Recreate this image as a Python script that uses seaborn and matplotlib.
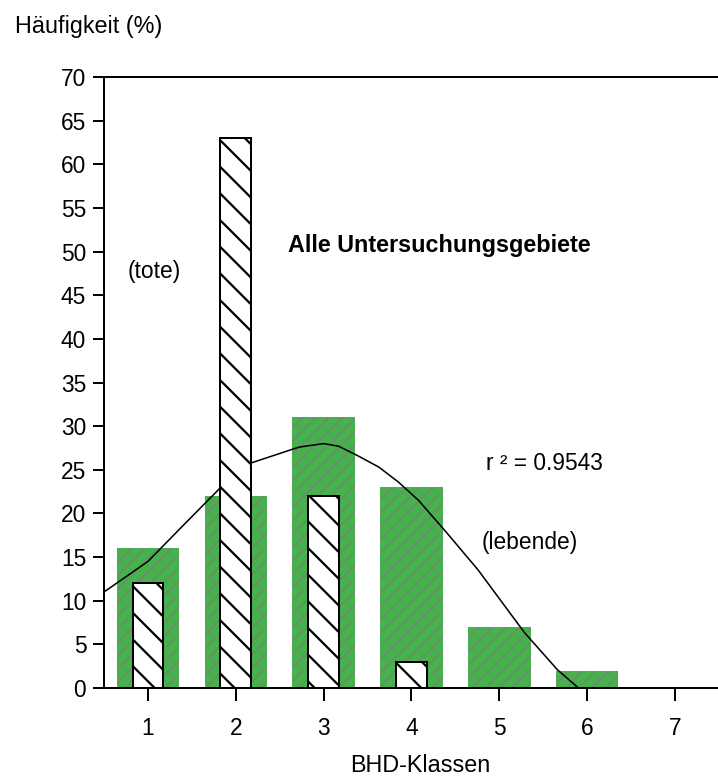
import matplotlib
matplotlib.use("Agg")
import matplotlib.pyplot as plt
import seaborn as sns

# BHD classes and frequencies (%)
klassen = [1, 2, 3, 4, 5, 6, 7]
lebende_klasse = [1, 2, 3, 4, 5, 6]
lebende = [16, 22, 31, 23, 7, 2]
tote_klasse = [1, 2, 3, 4]
tote = [12, 63, 22, 3]

# trend line
kurve_x = [0.5, 1.0, 1.35, 1.84, 2.18, 2.72, 3.0, 3.17, 3.39, 3.63, 3.85, 4.08,
           4.4, 4.76, 5.12, 5.29, 5.66, 5.9]
kurve_y = [11, 14.5, 18.1, 23.1, 25.8, 27.6, 28.0, 27.7, 26.6, 25.3, 23.6, 21.5,
           17.8, 13.5, 8.6, 6.3, 2.1, 0]

y_ticks = list(range(0, 75, 5))

sns.set_style("ticks")
plt.rcParams['font.family'] = ['Liberation Sans', 'DejaVu Sans']
plt.rcParams['axes.linewidth'] = 1.8
plt.rcParams['text.color'] = 'black'
plt.rcParams['xtick.color'] = 'black'
plt.rcParams['ytick.color'] = 'black'
plt.rcParams['axes.edgecolor'] = 'black'

DPI = 80
fig = plt.figure(figsize=(718 / DPI, 781 / DPI), dpi=DPI)
ax = fig.add_axes([104 / 718, 1 - 688 / 781, 615 / 718, (688 - 77) / 781])

# green bars (lebende)
n0 = len(ax.patches)
with plt.rc_context({'hatch.linewidth': 1.6}):
    sns.barplot(x=lebende_klasse, y=lebende, native_scale=True, orient="x",
                width=0.71, color="#45b24c", errorbar=None, ax=ax, zorder=1)
    for p in ax.patches[n0:]:
        p.set_facecolor("#45b24c")
        p.set_edgecolor("#6f8c70")
        p.set_linewidth(0)
        p.set_hatch("//")

# trend line
sns.lineplot(x=kurve_x, y=kurve_y, sort=False, color="black", lw=1.4,
             ax=ax, zorder=2)

# white hatched bars (tote)
n1 = len(ax.patches)
with plt.rc_context({'hatch.linewidth': 2.0}):
    sns.barplot(x=tote_klasse, y=tote, native_scale=True, orient="x",
                width=0.35, color="white", errorbar=None, ax=ax, zorder=3)
    for p in ax.patches[n1:]:
        p.set_facecolor("white")
        p.set_edgecolor("black")
        p.set_linewidth(1.8)
        p.set_hatch("\\")

ax.set_xlim(0.5, 7.5)
ax.set_ylim(0, 70)
ax.set_xticks(klassen)
ax.set_xticklabels([str(k) for k in klassen])
ax.set_yticks(y_ticks)
ax.set_yticklabels([str(v) for v in y_ticks])
ax.tick_params(axis="x", length=11.5, width=1.8, pad=15, labelsize=20.5, direction="out")
ax.tick_params(axis="y", length=10, width=1.8, pad=6, labelsize=20.5, direction="out")
ax.set_xlabel("")
ax.set_ylabel("")
ax.spines["right"].set_visible(False)
for s in ["left", "top", "bottom"]:
    ax.spines[s].set_visible(True)
    ax.spines[s].set_color("black")

ax.text(0.77, 47.7, "(tote)", fontsize=20.5, va="center", ha="left")
ax.text(2.59, 50.7, "Alle Untersuchungsgebiete", fontsize=21, fontweight="bold",
        va="center", ha="left")
ax.text(4.85, 25.7, "r ² = 0.9543", fontsize=20.5, va="center", ha="left")
ax.text(4.80, 16.7, "(lebende)", fontsize=20.5, va="center", ha="left")

fig.text(15 / 718, 1 - 27 / 781, "Häufigkeit (%)", fontsize=21, va="center", ha="left")
fig.text(420 / 718, 1 - 766 / 781, "BHD-Klassen", fontsize=21, va="center", ha="center")

fig.savefig("out.png", dpi=DPI)
